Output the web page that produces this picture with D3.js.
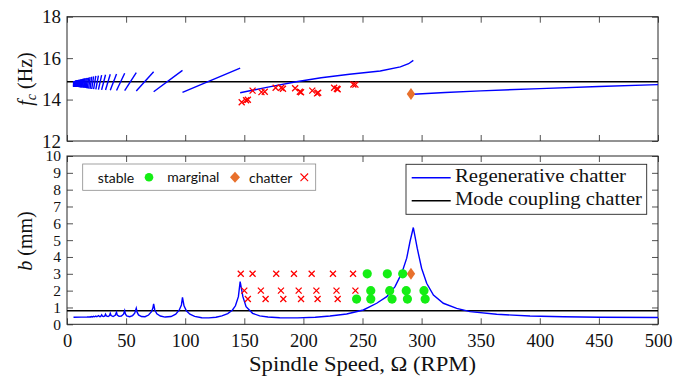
<!DOCTYPE html>
<html><head><meta charset="utf-8">
<script src="https://cdn.jsdelivr.net/npm/d3@7"></script>
<style>body{margin:0;background:#fff}</style>
</head><body>
<svg id="c" width="688" height="380"></svg>
<script>
// ---------- DATA ----------
const xTicks = [0, 50, 100, 150, 200, 250, 300, 350, 400, 450, 500];
const fcTicks = [12, 14, 16, 18];
const bTicks = [0, 1, 2, 3, 4, 5, 6, 7, 8, 9, 10];

// top panel: chatter frequency of regenerative lobes
const regen0Speed = [293, 320, 350, 400, 450, 500];
const regen0Fc = [14.26, 14.34, 14.42, 14.53, 14.63, 14.72];
const regen1Speed = [146.5, 170, 194, 215, 239, 265, 282, 289, 293];
const regen1Fc = [14.33, 14.6, 14.86, 15.05, 15.22, 15.38, 15.58, 15.73, 15.89];
const lobeEdges = [146.5, 97.7, 73.3, 58.6, 48.8, 41.9, 36.6, 32.6, 29.3, 26.6, 24.4, 22.5, 20.9, 19.5, 18.3, 17.2, 16.3, 15.4,
  14.7, 14.0, 13.3, 12.7, 12.2, 11.7, 11.3, 10.9, 10.5, 10.1, 9.8, 9.5, 9.2, 8.9, 8.6, 8.4, 8.1, 7.9, 7.7, 7.5,
  7.3, 7.1, 7.0, 6.8, 6.7, 6.5, 6.4, 6.2, 6.1, 6.0, 5.9, 5.75, 5.6, 5.5];
const lobeFcLow = [14.35, 14.38, 14.41, 14.43, 14.44, 14.45, 14.46, 14.47, 14.48, 14.49,
  14.50, 14.51, 14.52, 14.53, 14.54, 14.55, 14.56, 14.57, 14.57, 14.58,
  14.58, 14.59, 14.59, 14.59, 14.60, 14.60, 14.60, 14.60, 14.61, 14.61,
  14.61, 14.61, 14.61, 14.61, 14.62, 14.62, 14.62, 14.62, 14.62, 14.62,
  14.62, 14.62, 14.62, 14.62, 14.62, 14.62, 14.62, 14.62, 14.62, 14.62, 14.62];
const lobeFcHigh = [15.52, 15.41, 15.34, 15.30, 15.27, 15.24, 15.22, 15.20, 15.18, 15.16,
  15.14, 15.12, 15.10, 15.08, 15.06, 15.05, 15.04, 15.03, 15.02, 15.01,
  15.00, 14.99, 14.98, 14.97, 14.97, 14.96, 14.96, 14.95, 14.95, 14.94,
  14.94, 14.93, 14.93, 14.93, 14.92, 14.92, 14.92, 14.91, 14.91, 14.91,
  14.91, 14.90, 14.90, 14.90, 14.90, 14.90, 14.90, 14.90, 14.90, 14.90, 14.90];
const modeCouplingFc = 14.86;

const topChatterSpeed = [147.8, 151.5, 153, 157, 164.5, 167.3, 176.5, 181.3, 182.7, 193, 197, 198, 207.5, 211.5, 212.5, 226, 228.3, 229, 242.3, 244];
const topChatterFc = [13.87, 13.97, 13.99, 14.43, 14.36, 14.38, 14.57, 14.57, 14.52, 14.55, 14.38, 14.35, 14.43, 14.3, 14.33, 14.57, 14.52, 14.5, 14.73, 14.72];
const topMarginalSpeed = [291];
const topMarginalFc = [14.27];

// bottom panel: stability lobe diagram
const regenSpeed = [5.5, 12, 17, 18.3, 18.9, 19.5, 20.2, 20.9, 21.6, 22.5, 23.3, 24.4, 25.3, 26.6, 27.5, 28.4, 29.3, 30.0, 31.0, 32.0,
  32.6, 33.3, 34.8, 36.0, 36.6, 37.3, 39.0, 40.8, 41.9, 42.5, 44.0, 46.0, 47.8, 48.8, 49.4, 50.5, 53.0, 55.5, 57.3, 58.6,
  59.3, 60.5, 63.0, 66.0, 69.0, 71.5, 72.6, 73.3, 74.3, 76.0, 79.0, 83.0, 88.0, 92.0, 95.0, 96.8, 97.7, 99.0, 101.0, 104.0,
  108.0, 114.0, 120.0, 126.0, 131.0, 136.0, 140.0, 142.5, 145.0, 146.5, 148.8, 151.5, 157.0, 163.0, 170.0, 180.0, 195.0, 210.0, 222.5, 236.6,
  250.7, 262.0, 270.5, 277.5, 283.2, 287.4, 290.2, 293.0, 296.3, 300.0, 304.3, 310.0, 318.4, 329.7, 341.0, 363.5, 391.7, 420.0, 451.0, 500.0];
const regenDepth = [0.42, 0.425, 0.43, 0.44, 0.43, 0.45, 0.435, 0.46, 0.44, 0.47, 0.445, 0.49, 0.45, 0.52, 0.46, 0.46, 0.56, 0.48, 0.46, 0.5,
  0.6, 0.5, 0.46, 0.52, 0.65, 0.52, 0.46, 0.53, 0.72, 0.55, 0.47, 0.49, 0.6, 0.81, 0.62, 0.5, 0.45, 0.52, 0.66, 0.95,
  0.72, 0.56, 0.46, 0.45, 0.55, 0.75, 0.95, 1.21, 0.85, 0.62, 0.49, 0.43, 0.46, 0.6, 0.85, 1.15, 1.6, 1.1, 0.8, 0.6,
  0.47, 0.39, 0.38, 0.42, 0.5, 0.64, 0.85, 1.1, 1.64, 2.54, 1.64, 1.05, 0.65, 0.5, 0.43, 0.39, 0.38, 0.42, 0.49, 0.61,
  0.85, 1.25, 1.64, 2.24, 3.04, 3.93, 4.92, 5.75, 4.52, 3.33, 2.44, 1.74, 1.25, 0.95, 0.75, 0.6, 0.49, 0.45, 0.42, 0.4];
const modeCouplingDepth = 0.8;

const chatterSpeed = [147, 157, 177, 192, 207, 225, 242, 150, 164, 181, 196, 211, 228, 244, 153, 168, 183, 198, 212, 229];
const chatterDepth = [3, 3, 3, 3, 3, 3, 3, 2, 2, 2, 2, 2, 2, 2, 1.5, 1.5, 1.5, 1.5, 1.5, 1.5];
const stableSpeed = [254, 271, 284, 257, 273, 287, 302, 245, 257, 275, 288, 303];
const stableDepth = [3, 3, 3, 2, 2, 2, 2, 1.5, 1.5, 1.5, 1.5, 1.5];
const marginalSpeed = [291];
const marginalDepth = [3];

const legendMarkerLabels = ["stable", "marginal", "chatter"];
const legendLineLabels = ["Regenerative chatter", "Mode coupling chatter"];

// ---------- DRAW ----------
const BLUE = "#0000ff", RED = "#ff0000", GREEN = "#14ee14", ORANGE = "#e8702c", AX = "#262626";
const SERIF = "Liberation Serif";
const SANS = "Lato";
const svg = d3.select("#c");

const x = d3.scaleLinear().domain([0, 500]).range([67, 658]);
const yT = d3.scaleLinear().domain([12, 18]).range([141, 16.7]);
const yB = d3.scaleLinear().domain([0, 10]).range([324.3, 156]);

function frame(y, yTickVals, showX, yFont, id) {
  const [yb, yt] = y.range();
  const [xl, xr] = x.range();
  const g = svg.append("g");
  const style = sel => {
    sel.attr("font-family", SERIF);
    sel.select(".domain").remove();
    sel.selectAll(".tick line").attr("stroke", AX).attr("stroke-width", 0.8);
    sel.selectAll(".tick text").attr("fill", "#111").attr("font-family", SERIF);
  };
  g.append("g").attr("transform", `translate(0,${yb})`)
    .call(d3.axisBottom(x).tickValues(xTicks).tickSizeInner(-6).tickSizeOuter(0).tickPadding(9.5)
      .tickFormat(showX ? d3.format("d") : () => ""))
    .call(style).selectAll(".tick text").attr("font-size", 18.5);
  g.append("g").attr("transform", `translate(0,${yt})`)
    .call(d3.axisTop(x).tickValues(xTicks).tickSizeInner(-6).tickSizeOuter(0).tickFormat(() => ""))
    .call(style);
  g.append("g").attr("transform", `translate(${xl},0)`)
    .call(d3.axisLeft(y).tickValues(yTickVals).tickSizeInner(-6).tickSizeOuter(0).tickPadding(6).tickFormat(d3.format("d")))
    .call(style).selectAll(".tick text").attr("font-size", yFont);
  g.append("g").attr("transform", `translate(${xr},0)`)
    .call(d3.axisRight(y).tickValues(yTickVals).tickSizeInner(-6).tickSizeOuter(0).tickFormat(() => ""))
    .call(style);
  g.append("rect").attr("x", xl).attr("y", yt).attr("width", xr - xl).attr("height", yb - yt)
    .attr("fill", "none").attr("stroke", AX).attr("stroke-width", 1);
  svg.append("clipPath").attr("id", id).append("rect")
    .attr("x", xl).attr("y", yt).attr("width", xr - xl).attr("height", yb - yt);
}

frame(yT, fcTicks, false, 19, "clipT");
frame(yB, bTicks, true, 15.5, "clipB");

// ---- top panel marks ----
const gT = svg.append("g").attr("clip-path", "url(#clipT)");
const lineT = d3.line().x(d => x(d[0])).y(d => yT(d[1]));
gT.append("line").attr("x1", x(0)).attr("x2", x(500)).attr("y1", yT(modeCouplingFc)).attr("y2", yT(modeCouplingFc))
  .attr("stroke", "#000").attr("stroke-width", 1.5);
const segs = [d3.zip(regen0Speed, regen0Fc), d3.zip(regen1Speed, regen1Fc)];
for (let j = 0; j < lobeFcLow.length; j++) {
  segs.push([[lobeEdges[j + 1], lobeFcLow[j]], [lobeEdges[j], lobeFcHigh[j]]]);
}
gT.selectAll("path.lobe").data(segs).join("path").attr("class", "lobe")
  .attr("d", lineT).attr("fill", "none").attr("stroke", BLUE).attr("stroke-width", 1.4);

function xMark(g, cx, cy, s, w) {
  g.append("path").attr("d", `M${cx - s},${cy - s}L${cx + s},${cy + s}M${cx - s},${cy + s}L${cx + s},${cy - s}`)
    .attr("stroke", RED).attr("stroke-width", w).attr("fill", "none");
}
function diamond(g, cx, cy, hw, hh) {
  g.append("path").attr("d", `M${cx},${cy - hh}L${cx + hw},${cy}L${cx},${cy + hh}L${cx - hw},${cy}Z`).attr("fill", ORANGE);
}
topChatterSpeed.forEach((s, i) => xMark(gT, x(s), yT(topChatterFc[i]), 3, 1.3));
topMarginalSpeed.forEach((s, i) => diamond(gT, x(s), yT(topMarginalFc[i]), 4.2, 6));

// ---- bottom panel marks ----
const gB = svg.append("g").attr("clip-path", "url(#clipB)");
gB.append("line").attr("x1", x(0)).attr("x2", x(500)).attr("y1", yB(modeCouplingDepth)).attr("y2", yB(modeCouplingDepth))
  .attr("stroke", "#000").attr("stroke-width", 1.5);
gB.append("path").datum(d3.zip(regenSpeed, regenDepth))
  .attr("d", d3.line().x(d => x(d[0])).y(d => yB(d[1])))
  .attr("fill", "none").attr("stroke", BLUE).attr("stroke-width", 1.4);
chatterSpeed.forEach((s, i) => xMark(gB, x(s), yB(chatterDepth[i]), 3, 1.3));
stableSpeed.forEach((s, i) => gB.append("circle").attr("cx", x(s)).attr("cy", yB(stableDepth[i])).attr("r", 4.6).attr("fill", GREEN));
marginalSpeed.forEach((s, i) => diamond(gB, x(s), yB(marginalDepth[i]), 4.2, 6));

// ---- legend 1 (markers) ----
const L1 = svg.append("g");
L1.append("rect").attr("x", 82.7).attr("y", 164).attr("width", 233).attr("height", 26.3)
  .attr("fill", "#fff").attr("stroke", "#8a8a8a").attr("stroke-width", 0.8);
const l1Text = [[97.7, 183], [167.3, 181.5], [249, 183]];
legendMarkerLabels.forEach((t, i) => L1.append("text").attr("x", l1Text[i][0]).attr("y", l1Text[i][1])
  .attr("font-family", SANS).attr("font-size", 14).attr("fill", "#111").text(t));
L1.append("circle").attr("cx", 149).attr("cy", 177.3).attr("r", 4.3).attr("fill", GREEN);
diamond(L1, 235, 177.3, 5, 5.5);
xMark(L1, 304.3, 177.3, 3.8, 1.1);

// ---- legend 2 (lines) ----
const L2 = svg.append("g");
L2.append("rect").attr("x", 406).attr("y", 164.3).attr("width", 240.7).attr("height", 50)
  .attr("fill", "#fff").attr("stroke", AX).attr("stroke-width", 0.9);
L2.append("line").attr("x1", 411.7).attr("x2", 450.7).attr("y1", 177.7).attr("y2", 177.7).attr("stroke", BLUE).attr("stroke-width", 1.4);
L2.append("line").attr("x1", 411.7).attr("x2", 450.7).attr("y1", 200.7).attr("y2", 200.7).attr("stroke", "#000").attr("stroke-width", 1.4);
const l2W = [171, 187];
const l2Y = [182, 205];
legendLineLabels.forEach((t, i) => L2.append("text").attr("x", 455).attr("y", l2Y[i])
  .attr("font-family", SERIF).attr("font-size", 18).attr("fill", "#111")
  .attr("textLength", l2W[i]).attr("lengthAdjust", "spacingAndGlyphs").text(t));

// ---- axis titles ----
svg.append("text").attr("x", 362.5).attr("y", 371).attr("text-anchor", "middle")
  .attr("font-family", SERIF).attr("font-size", 20).attr("fill", "#111")
  .attr("textLength", 227).attr("lengthAdjust", "spacingAndGlyphs")
  .text("Spindle Speed, Ω (RPM)");

const ty = svg.append("text").attr("transform", "translate(32,79) rotate(-90)").attr("text-anchor", "middle")
  .attr("font-family", SERIF).attr("font-size", 20).attr("fill", "#111");
ty.append("tspan").attr("font-style", "italic").text("f");
ty.append("tspan").attr("font-style", "italic").attr("font-size", 14).attr("dy", 4).text("c");
ty.append("tspan").attr("dy", -4).text(" (Hz)");

const tb = svg.append("text").attr("transform", "translate(32,241) rotate(-90)").attr("text-anchor", "middle")
  .attr("font-family", SERIF).attr("font-size", 20).attr("fill", "#111");
tb.append("tspan").attr("font-style", "italic").text("b");
tb.append("tspan").text(" (mm)");
</script>
</body></html>
